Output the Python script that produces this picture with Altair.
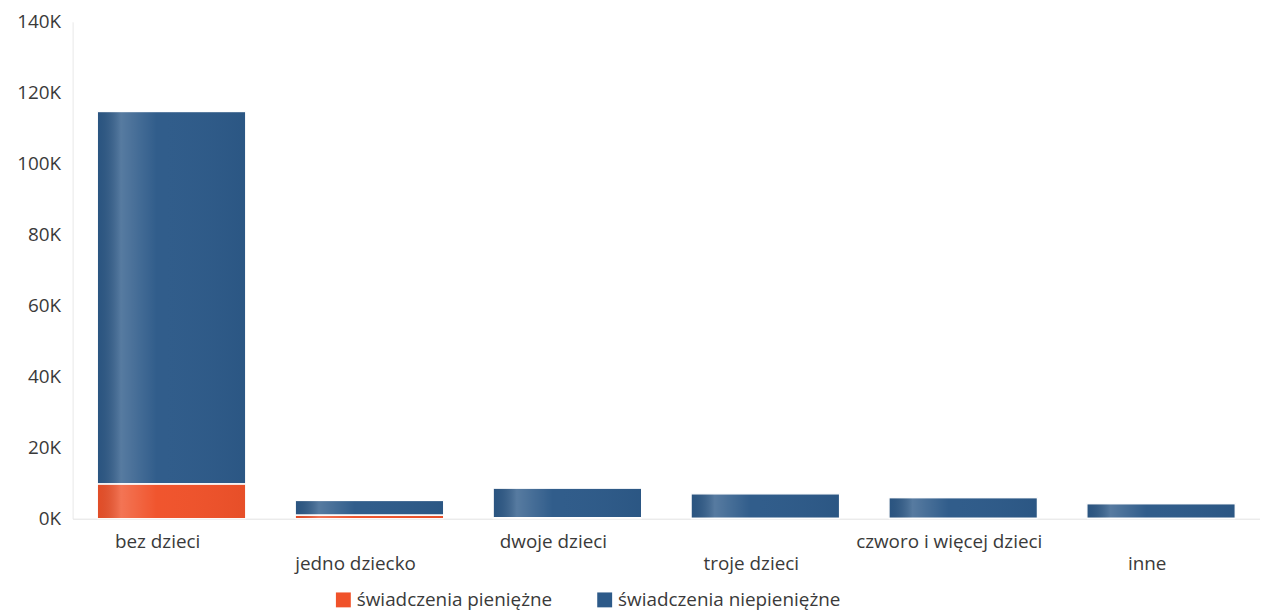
import altair as alt
import pandas as pd

categories = ["bez dzieci", "jedno dziecko", "dwoje dzieci", "troje dzieci",
              "czworo i więcej dzieci", "inne"]
series_names = ["świadczenia pieniężne", "świadczenia niepieniężne"]
pieniezne = [9800, 1000, 300, 100, 100, 100]
niepieniezne = [104900, 4100, 8300, 6900, 5800, 4100]
series_colors = ["#F0522A", "#2D5A89"]
y_ticks = [0, 20000, 40000, 60000, 80000, 100000, 120000, 140000]

rows = []
for c, p, n in zip(categories, pieniezne, niepieniezne):
    rows.append({"kat": c, "seria": series_names[0], "wartosc": p, "ord": 1})
    rows.append({"kat": c, "seria": series_names[1], "wartosc": n, "ord": 2})
df = pd.DataFrame(rows)

FONT = "Open Sans"
TXT = "#3a3a3a"
FS = 19

x_enc = alt.X("kat:N", sort=categories, title=None,
              scale=alt.Scale(paddingInner=0.25, paddingOuter=0.125),
              axis=alt.Axis(labelAngle=0, ticks=False, domainColor="#e2e2e2",
                            labelFont=FONT, labelFontSize=FS, labelColor=TXT,
                            labelOffset=-14, labelBaseline="top", labelLimit=400,
                            labelPadding={"condition": {"test": "indexof(['jedno dziecko','troje dzieci','inne'], datum.value) >= 0", "value": 36},
                                          "value": 14}))
y_enc = alt.Y("wartosc:Q", stack="zero", title=None,
              scale=alt.Scale(domain=[0, 140000], nice=False),
              axis=alt.Axis(values=y_ticks, labelExpr="datum.value/1000 + 'K'",
                            grid=False, ticks=False, domainColor="#e8e8e8",
                            labelFont=FONT, labelFontSize=FS, labelColor=TXT,
                            labelPadding=12, minExtent=60, maxExtent=60))

base = alt.Chart(df)

bars = base.mark_bar(stroke="white", strokeWidth=1).encode(
    x=x_enc, y=y_enc,
    color=alt.Color("seria:N", scale=alt.Scale(domain=series_names, range=series_colors),
                    legend=alt.Legend(title=None, orient="none", direction="horizontal",
                                      legendX=263, legendY=572,
                                      symbolType="square", symbolSize=225, symbolStrokeWidth=0,
                                      labelFont=FONT, labelFontSize=FS, labelColor=TXT,
                                      labelLimit=400, columnPadding=43)),
    order=alt.Order("ord:Q"),
)

shine = base.mark_bar(
    fill=alt.Gradient(
        gradient="linear", x1=0, y1=0, x2=1, y2=0,
        stops=[alt.GradientStop(offset=0, color="rgba(0,0,0,0.06)"),
               alt.GradientStop(offset=0.16, color="rgba(255,255,255,0.2)"),
               alt.GradientStop(offset=0.4, color="rgba(255,255,255,0.02)"),
               alt.GradientStop(offset=1, color="rgba(0,0,0,0.04)")]),
    stroke="white", strokeWidth=1,
).encode(
    x=x_enc, y=y_enc, detail="seria:N", order=alt.Order("ord:Q"),
)

chart = alt.layer(bars, shine).properties(
    width=1195, height=500,
    padding={"left": 5, "top": 3, "right": 0, "bottom": 0},
).configure_view(stroke=None)

chart.save("out.html", embed_options={"renderer": "svg", "actions": False})
